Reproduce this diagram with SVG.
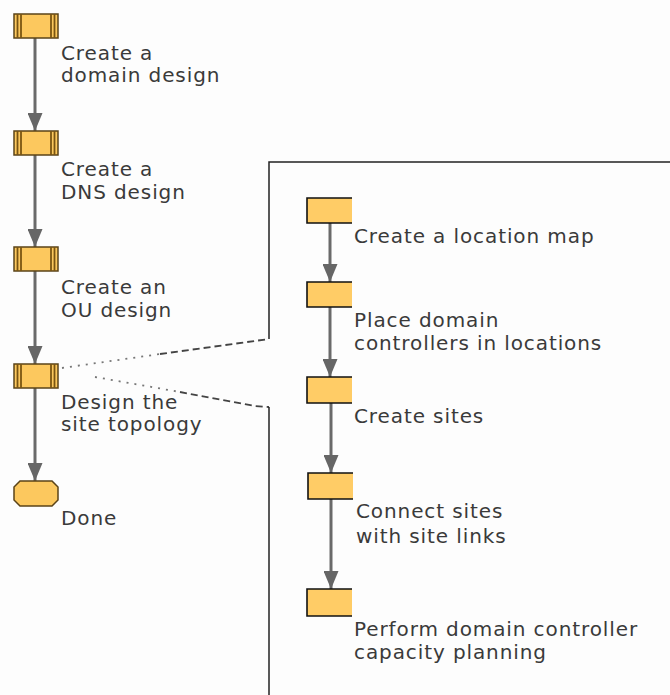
<svg xmlns="http://www.w3.org/2000/svg" width="670" height="695" viewBox="0 0 670 695">
<defs>
<marker id="arr" viewBox="0 0 18 15" refX="18" refY="7.5" markerWidth="18" markerHeight="15" markerUnits="userSpaceOnUse" orient="auto">
<path d="M0,0 L18,7.5 L0,15 Z" fill="#666666"/>
</marker>
<style>
text{font-family:"DejaVu Sans",Verdana,sans-serif;font-size:20px;letter-spacing:0.9px;fill:#3a3a3a}
.pp{fill:#FCC85E;stroke:#5a4318;stroke-width:1.5}
.bar{stroke:#7a5512;stroke-width:1.8}
.rb{fill:#FFCC66}
.rbe{fill:none;stroke:#111;stroke-width:1.6}
.flow{stroke:#6a6a6a;stroke-width:3;fill:none;marker-end:url(#arr)}
.panel{fill:none;stroke:#222;stroke-width:1.5}
.dot{fill:none;stroke:#777;stroke-width:1.8;stroke-dasharray:2 6}
.dash{fill:none;stroke:#444;stroke-width:1.8;stroke-dasharray:7 4}
</style>
</defs>
<rect width="670" height="695" fill="#fdfdfd"/>

<g id="connectors">
<line class="flow" x1="35" y1="38" x2="35" y2="131"/>
<line class="flow" x1="35" y1="155" x2="35" y2="247"/>
<line class="flow" x1="35" y1="271" x2="35" y2="364"/>
<line class="flow" x1="35" y1="388" x2="35" y2="481"/>
<line class="flow" x1="330" y1="223" x2="330" y2="282"/>
<line class="flow" x1="330" y1="307" x2="330" y2="377"/>
<line class="flow" x1="331" y1="403" x2="331" y2="473"/>
<line class="flow" x1="331" y1="499" x2="331" y2="589"/>
<path class="dot" d="M62,368 L160,354"/>
<path class="dash" d="M160,354 L269,339"/>
<path class="dot" d="M95,377 L180,392"/>
<path class="dash" d="M180,392 L255,406 L269,407"/>
<path class="panel" d="M269,339 V162 H670"/>
<path class="panel" d="M269,407 V695"/>
</g>

<g id="n1">
<rect class="pp" x="14" y="14" width="44" height="24"/>
<line class="bar" x1="17.5" y1="14" x2="17.5" y2="38"/><line class="bar" x1="21" y1="14" x2="21" y2="38"/>
<line class="bar" x1="51" y1="14" x2="51" y2="38"/><line class="bar" x1="54.5" y1="14" x2="54.5" y2="38"/>
<text x="61" y="60">Create a</text>
<text x="61" y="82">domain design</text>
</g>

<g id="n2">
<rect class="pp" x="14" y="131" width="44" height="24"/>
<line class="bar" x1="17.5" y1="131" x2="17.5" y2="155"/><line class="bar" x1="21" y1="131" x2="21" y2="155"/>
<line class="bar" x1="51" y1="131" x2="51" y2="155"/><line class="bar" x1="54.5" y1="131" x2="54.5" y2="155"/>
<text x="61" y="176">Create a</text>
<text x="61" y="199">DNS design</text>
</g>

<g id="n3">
<rect class="pp" x="14" y="247" width="44" height="24"/>
<line class="bar" x1="17.5" y1="247" x2="17.5" y2="271"/><line class="bar" x1="21" y1="247" x2="21" y2="271"/>
<line class="bar" x1="51" y1="247" x2="51" y2="271"/><line class="bar" x1="54.5" y1="247" x2="54.5" y2="271"/>
<text x="61" y="294">Create an</text>
<text x="61" y="317">OU design</text>
</g>

<g id="n4">
<rect class="pp" x="14" y="364" width="44" height="24"/>
<line class="bar" x1="17.5" y1="364" x2="17.5" y2="388"/><line class="bar" x1="21" y1="364" x2="21" y2="388"/>
<line class="bar" x1="51" y1="364" x2="51" y2="388"/><line class="bar" x1="54.5" y1="364" x2="54.5" y2="388"/>
<text x="61" y="409">Design the</text>
<text x="61" y="431">site topology</text>
</g>

<g id="done">
<path class="pp" d="M20,481 H52 L58,487 V500 L52,506 H20 L14,500 V487 Z"/>
<text x="61" y="525">Done</text>
</g>

<g id="s1">
<rect class="rb" x="307" y="198" width="45" height="25"/>
<path class="rbe" d="M352,198 H307 V223 H352"/>
<text x="354" y="243">Create a location map</text>
</g>

<g id="s2">
<rect class="rb" x="307" y="282" width="45" height="25"/>
<path class="rbe" d="M352,282 H307 V307 H352"/>
<text x="354" y="327">Place domain</text>
<text x="354" y="350">controllers in locations</text>
</g>

<g id="s3">
<rect class="rb" x="307" y="377" width="45" height="26"/>
<path class="rbe" d="M352,377 H307 V403 H352"/>
<text x="354" y="423">Create sites</text>
</g>

<g id="s4">
<rect class="rb" x="308" y="473" width="45" height="26"/>
<path class="rbe" d="M353,473 H308 V499 H353"/>
<text x="356" y="518">Connect sites</text>
<text x="356" y="543">with site links</text>
</g>

<g id="s5">
<rect class="rb" x="307" y="589" width="45" height="27"/>
<path class="rbe" d="M352,589 H307 V616 H352"/>
<text x="354" y="636">Perform domain controller</text>
<text x="354" y="659">capacity planning</text>
</g>
</svg>
